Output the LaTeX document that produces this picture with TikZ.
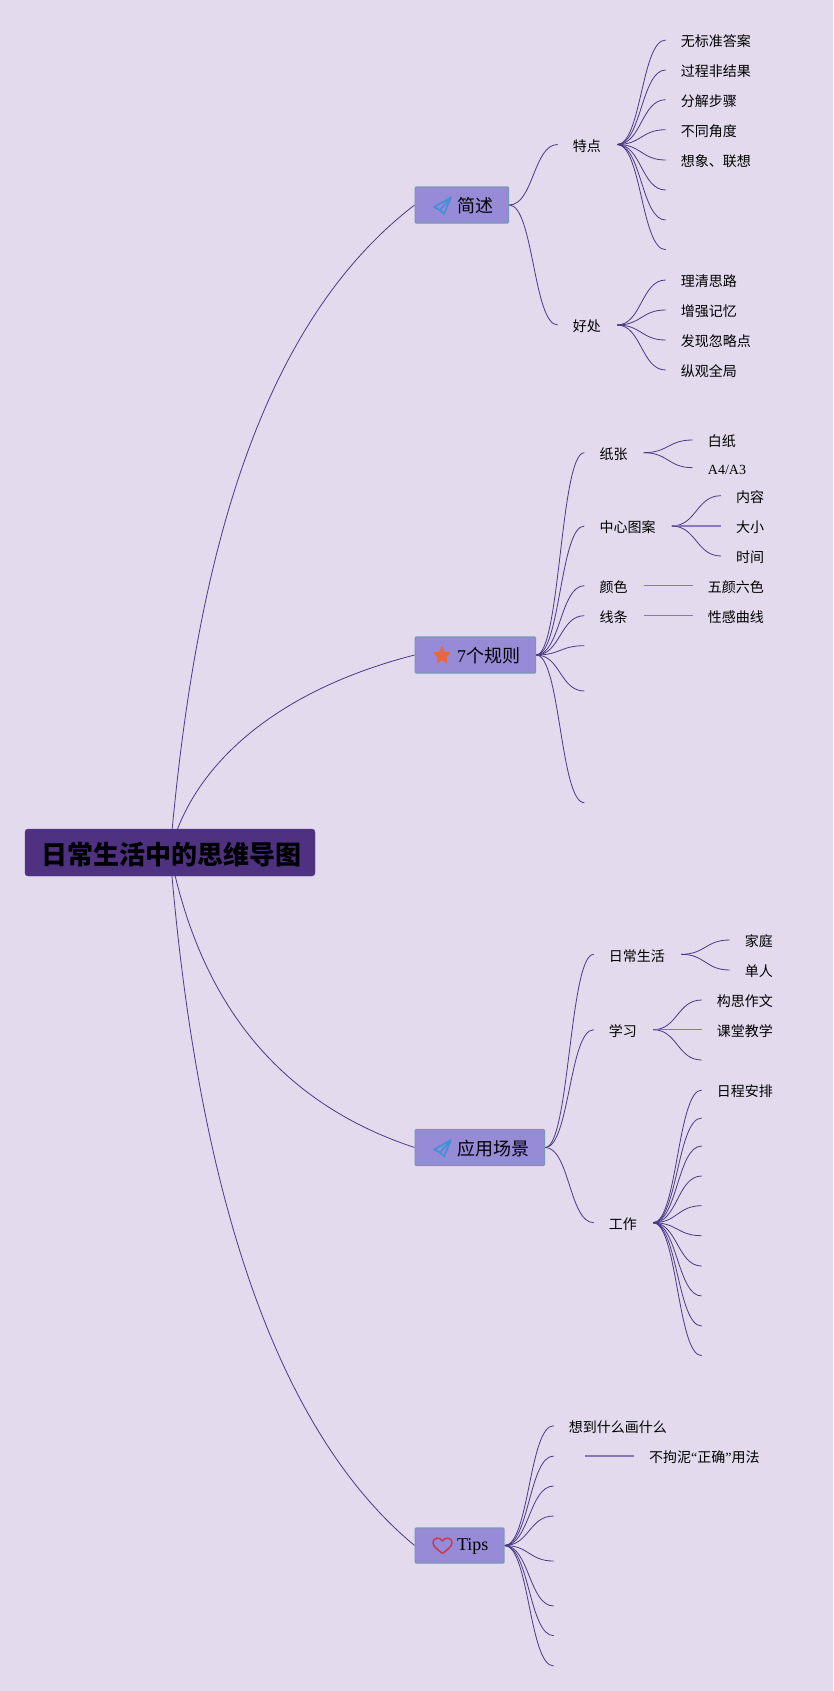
\documentclass[tikz,border=0pt]{standalone}
\usepackage{fontspec}
\usetikzlibrary{calc,shapes.geometric}
\setmainfont{Noto Sans CJK SC}
\newfontfamily\lat{Liberation Serif}
\definecolor{pagebg}{HTML}{E3DAEE}
\definecolor{boxfill}{HTML}{978AD7}
\definecolor{boxline}{HTML}{7A98B4}
\definecolor{rootfill}{HTML}{4E3180}
\definecolor{linkcol}{HTML}{4A3A86}
\definecolor{flatcol}{HTML}{8A78B8}
\definecolor{planecol}{HTML}{3F90D8}
\definecolor{starcol}{HTML}{E8683A}
\definecolor{heartcol}{HTML}{C93850}
\pgfdeclarelayer{back}
\pgfdeclarelayer{conn}
\pgfsetlayers{back,conn,main}
\tikzset{
  leafnode/.style={anchor=west,inner xsep=15pt,inner ysep=0pt,text height=14.2pt,text depth=0.4pt,font=\fontsize{14pt}{14pt}\selectfont},
  topicbox/.style={anchor=west,draw=boxline,fill=boxfill,line width=1.2pt,rounded corners=1pt,inner xsep=15.5pt,inner ysep=0pt,minimum height=36pt,text height=17.4pt,text depth=2pt,font=\fontsize{18pt}{18pt}\selectfont},
  rootbox/.style={fill=rootfill,draw=rootfill!90!white,rounded corners=3pt,minimum width=290pt,minimum height=47pt,inner sep=0pt,text height=24pt,text depth=0pt,font=\fontsize{26pt}{26pt}\selectfont\bfseries},
  linkline/.style={draw=linkcol,line width=0.8pt},
  flatline/.style={draw=flatcol,line width=1.3pt},
  planeicon/.style={draw=planecol,line width=1.6pt,line join=round,fill=none},
}
\newcommand\leafn[4]{\node[leafnode] (#1) at (#2,#3) {#4\kern1pt};}
\newcommand\tipc[3]{\coordinate (#1) at (#2,#3);}
\newcommand\conn[2]{\begin{pgfonlayer}{conn}\draw[linkline] let \p1=(#1),\p2=(#2),\p3=($(\p1)!.5!(\p2)$) in (\p1) .. controls (\x3,\y1) and (\x3,\y2) .. (\p2);\end{pgfonlayer}}
\newcommand\flatlink[2]{\begin{pgfonlayer}{conn}\draw[flatline] (#1) -- (#2);\end{pgfonlayer}}
\newcommand\rootlink[3]{\begin{pgfonlayer}{conn}\draw[linkline] (rootc) .. controls #2 and #3 .. (#1);\end{pgfonlayer}}
\newcommand\planeic[2]{\draw[planeicon,shift={(#1,#2)}] (8.5,-8) -- (-8.5,1.5) -- (-2.5,4.5) -- cycle (8.5,-8) -- (1.5,8.5) -- (-2.5,4.5);}
\begin{document}
\begin{tikzpicture}[x=1pt,y=-1pt]
\useasboundingbox (0,0) rectangle (833,1691);
\begin{pgfonlayer}{back}
\fill[pagebg] (0,0) rectangle (833,1691);
\end{pgfonlayer}
% root
\node[rootbox] (root) at (170,852.5) {\kern2pt 日常生活中的思维导图};
\coordinate (rootc) at (170,853);
% topics
\node[topicbox] (t1) at (414.6,205) {\kern26.4pt 简述};
\node[topicbox] (t2) at (414.6,655) {\kern26.4pt {\lat 7}个规则};
\node[topicbox] (t3) at (414.6,1147.5) {\kern26.4pt 应用场景};
\node[topicbox,minimum height=35pt,text height=11pt] (t4) at (414.6,1545.5) {\kern26.4pt {\lat Tips}};
\planeic{442.5}{205.5}
\planeic{442.5}{1148}
\node[star,star points=5,star point ratio=2.1,fill=starcol,draw=starcol,line width=1pt,line join=round,minimum size=17pt,inner sep=0pt] (staricon) at (442,655.5) {};
\draw[heartcol,line width=1.5pt,line join=round] (442.5,1553.5) .. controls (437,1549) and (433,1546.5) .. (433,1542.5) .. controls (433,1537.5) and (440,1536.5) .. (442.5,1541) .. controls (445,1536.5) and (452,1537.5) .. (452,1542.5) .. controls (452,1546.5) and (448,1549) .. (442.5,1553.5) -- cycle;
\rootlink{t1.west}{(192,600)}{(245,335)}
\rootlink{t2.west}{(190,770)}{(270,692)}
\rootlink{t3.west}{(190,950)}{(240,1090)}
\rootlink{t4.west}{(190,1100)}{(245,1405)}
% branch 1
\leafn{a}{557.7}{144.5}{特点}
\leafn{b}{557.7}{325}{好处}
\conn{t1.east}{a.west}\conn{t1.east}{b.west}
\leafn{a1}{665.7}{40}{无标准答案}
\leafn{a2}{665.7}{70}{过程非结果}
\leafn{a3}{665.7}{99.7}{分解步骤}
\leafn{a4}{665.7}{129.7}{不同角度}
\leafn{a5}{665.7}{160}{想象、联想}
\tipc{a6}{665.7}{190}\tipc{a7}{665.7}{220}\tipc{a8}{665.7}{249.7}
\conn{a.east}{a1.west}\conn{a.east}{a2.west}\conn{a.east}{a3.west}\conn{a.east}{a4.west}\conn{a.east}{a5.west}\conn{a.east}{a6}\conn{a.east}{a7}\conn{a.east}{a8}
\leafn{b1}{665.7}{280}{理清思路}
\leafn{b2}{665.7}{310}{增强记忆}
\leafn{b3}{665.7}{340}{发现忽略点}
\leafn{b4}{665.7}{370}{纵观全局}
\conn{b.east}{b1.west}\conn{b.east}{b2.west}\conn{b.east}{b3.west}\conn{b.east}{b4.west}
% branch 2
\leafn{c}{584.3}{452.7}{纸张}
\leafn{d}{584.3}{526}{中心图案}
\leafn{e}{584.3}{585.7}{颜色}
\leafn{f}{584.3}{615.7}{线条}
\tipc{g1}{584.3}{645.7}\tipc{g2}{584.3}{691}\tipc{g3}{584.3}{802.7}
\conn{t2.east}{c.west}\conn{t2.east}{d.west}\conn{t2.east}{e.west}\conn{t2.east}{f.west}\conn{t2.east}{g1}\conn{t2.east}{g2}\conn{t2.east}{g3}
\leafn{c1}{692.7}{440}{白纸}
\leafn{c2}{692.7}{467.7}{{\lat A4/A3}}
\conn{c.east}{c1.west}\conn{c.east}{c2.west}
\leafn{d1}{721}{495.7}{内容}
\leafn{d2}{721}{526}{大小}
\leafn{d3}{721}{556}{时间}
\conn{d.east}{d1.west}\flatlink{d.east}{d2.west}\conn{d.east}{d3.west}
\leafn{e1}{692.7}{585.7}{五颜六色}
\leafn{f1}{692.7}{615.7}{性感曲线}
\flatlink{e.east}{e1.west}\flatlink{f.east}{f1.west}
% branch 3
\leafn{h}{593.7}{954.3}{日常生活}
\leafn{i}{593.7}{1029.7}{学习}
\leafn{j}{593.7}{1222.7}{工作}
\conn{t3.east}{h.west}\conn{t3.east}{i.west}\conn{t3.east}{j.west}
\leafn{h1}{729.7}{940}{家庭}
\leafn{h2}{729.7}{970}{单人}
\conn{h.east}{h1.west}\conn{h.east}{h2.west}
\leafn{i1}{701.7}{1000}{构思作文}
\leafn{i2}{701.7}{1029.7}{课堂教学}
\tipc{i3}{701.7}{1060}
\conn{i.east}{i1.west}\flatlink{i.east}{i2.west}\conn{i.east}{i3}
\leafn{j1}{701.7}{1090}{日程安排}
\tipc{j2}{701.7}{1118}\tipc{j3}{701.7}{1146}\tipc{j4}{701.7}{1176}\tipc{j5}{701.7}{1205.7}\tipc{j6}{701.7}{1235.7}\tipc{j7}{701.7}{1266}\tipc{j8}{701.7}{1296}\tipc{j9}{701.7}{1326}\tipc{j10}{701.7}{1355.7}
\conn{j.east}{j1.west}\conn{j.east}{j2}\conn{j.east}{j3}\conn{j.east}{j4}\conn{j.east}{j5}\conn{j.east}{j6}\conn{j.east}{j7}\conn{j.east}{j8}\conn{j.east}{j9}\conn{j.east}{j10}
% branch 4
\leafn{k1}{553.7}{1425.7}{想到什么画什么}
\leafn{k2}{553.7}{1456}{}
\tipc{k3}{553.7}{1486}\tipc{k4}{553.7}{1516}\tipc{k5}{553.7}{1561}\tipc{k6}{553.7}{1606}\tipc{k7}{553.7}{1635.7}\tipc{k8}{553.7}{1666}
\conn{t4.east}{k1.west}\conn{t4.east}{k2.west}\conn{t4.east}{k3}\conn{t4.east}{k4}\conn{t4.east}{k5}\conn{t4.east}{k6}\conn{t4.east}{k7}\conn{t4.east}{k8}
\leafn{k21}{634}{1456}{不拘泥{\lat “}正确{\lat ”}用法}
\flatlink{k2.east}{k21.west}
\end{tikzpicture}
\end{document}
